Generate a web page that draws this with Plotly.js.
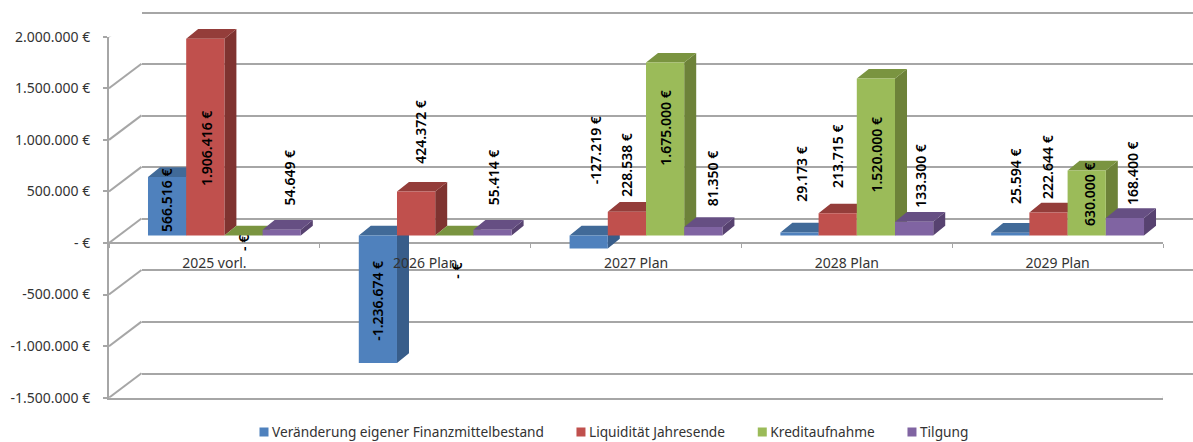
<!DOCTYPE html>
<html>
<head>
<meta charset="utf-8">
<script src="https://cdn.plot.ly/plotly-3.0.1.min.js"></script>
<style>html,body{margin:0;padding:0;background:#fff}</style>
</head>
<body>
<div id="chart" style="width:1193px;height:442px"></div>
<script>
// ---- data ----
const categories = ['2025 vorl.', '2026 Plan', '2027 Plan', '2028 Plan', '2029 Plan'];
const seriesNames = ['Veränderung eigener Finanzmittelbestand', 'Liquidität Jahresende', 'Kreditaufnahme', 'Tilgung'];
const veraenderung = [566516, -1236674, -127219, 29173, 25594];
const liquiditaet = [1906416, 424372, 228538, 213715, 222644];
const kredit = [0, 0, 1675000, 1520000, 630000];
const tilgung = [54649, 55414, 81350, 133300, 168400];
const yTickValues = [-1500000, -1000000, -500000, 0, 500000, 1000000, 1500000, 2000000];
const yTickLabels = ['-1.500.000 €', '-1.000.000 €', '-500.000 €', '- €', '500.000 €', '1.000.000 €', '1.500.000 €', '2.000.000 €'];

// ---- style ----
const frontColors = ['#4F81BD', '#C0504D', '#9BBB59', '#8064A2'];
const sideColors = ['#385D8A', '#7F3330', '#6D8239', '#574270'];
const topColors = ['#416A98', '#943D3A', '#7A9440', '#664F83'];
const FONT = '"Noto Sans", sans-serif';
const GRID = '#A6A6A6';

// label nudges from each bar's value point, pixels
const labelShiftX = [[0, 1, 0, 8], [0, 5, 2, 1], [7, 0, 1, 10], [2, 0, 1, 7], [5, -1, 3, 7]];
const labelShiftY = [[-23, -110, -8, 52], [62, 60, -35, 52], [98, 47, -66, 49], [59, 57, -76, 46], [57, 45, -24, 45]];

// ---- geometry of the projected box (pixels in the 1193x442 page) ----
const W = 1193, H = 442;
const frontLeft = 109, frontRight = 1163, frontTop = 36.7, frontBottom = 397.7, frontZero = 243.3;
const pxPerUnitY = (frontBottom - frontTop) / 3500000;
const pxPerCat = (frontRight - frontLeft) / 5;
const wallDx = 32.5, wallDy = 24.5;    // front plane -> back wall
const barDx = 10, barDy = 7.6;         // front plane -> bar plane
const depthDx = 12, depthDy = 9.7;     // bar depth
const bargap = 0.275;
const barW = (1 - bargap) / 4;

const series = [veraenderung, liquiditaet, kredit, tilgung];
const xDomain = (shift) => [(frontLeft + shift) / W, (frontRight + shift) / W];
const yDomain = (shift) => [(H - frontBottom + shift) / H, (H - frontTop + shift) / H];

const traces = [];

// back wall: gridlines come from axis y; one invisible point activates the subplot
traces.push({type: 'scatter', x: [0], y: [null], xaxis: 'x', yaxis: 'y', showlegend: false, hoverinfo: 'skip', mode: 'lines'});

// left-wall diagonals and right floor edge, in front-plane units
const wx = [], wy = [];
const wallUx = wallDx / pxPerCat, wallUy = wallDy / pxPerUnitY;
yTickValues.forEach(v => { wx.push(0, wallUx, null); wy.push(v, v + wallUy, null); });
wx.push(5, 5 + wallUx, null); wy.push(yTickValues[0], yTickValues[0] + wallUy, null);
traces.push({type: 'scatter', mode: 'lines', x: wx, y: wy, xaxis: 'x2', yaxis: 'y2', cliponaxis: false,
  line: {color: GRID, width: 2}, showlegend: false, hoverinfo: 'skip'});

// depth faces of the bars (side and top), drawn under all the front faces
const depUx = depthDx / pxPerCat, depUy = depthDy / pxPerUnitY;
series.forEach((vals, s) => {
  const sx = [], sy = [], tx = [], ty = [];
  vals.forEach((v, i) => {
    const l = i + 0.5 + (s - 2) * barW, r = l + barW;
    const hi = Math.max(v, 0), lo = Math.min(v, 0);
    sx.push(r, r + depUx, r + depUx, r, null);
    sy.push(lo, lo + depUy, hi + depUy, hi, null);
    tx.push(l, l + depUx, r + depUx, r, null);
    ty.push(hi, hi + depUy, hi + depUy, hi, null);
  });
  traces.push({type: 'scatter', mode: 'lines', fill: 'toself', x: sx, y: sy, xaxis: 'x3', yaxis: 'y3', cliponaxis: false,
    line: {width: 0}, fillcolor: sideColors[s], showlegend: false, hoverinfo: 'skip'});
  traces.push({type: 'scatter', mode: 'lines', fill: 'toself', x: tx, y: ty, xaxis: 'x3', yaxis: 'y3', cliponaxis: false,
    line: {width: 0}, fillcolor: topColors[s], showlegend: false, hoverinfo: 'skip'});
});

// front faces
series.forEach((vals, s) => {
  traces.push({type: 'bar', name: seriesNames[s], x: categories.map((c, i) => i + 0.5), y: vals,
    xaxis: 'x4', yaxis: 'y4', marker: {color: frontColors[s], line: {width: 0}}});
});

// category axis, above the bars
traces.push({type: 'scatter', mode: 'lines', x: categories, y: categories.map(() => null),
  xaxis: 'x5', yaxis: 'y5', showlegend: false, hoverinfo: 'skip'});

// data labels
const fmt = v => v === 0 ? '- €' : String(v).replace(/\B(?=(\d{3})+(?!\d))/g, '.') + ' €';
const annotations = [];
series.forEach((vals, s) => vals.forEach((v, i) => {
  annotations.push({
    xref: 'x4', yref: 'y4', x: i + 0.5 + (s - 1.5) * barW, y: v,
    xshift: labelShiftX[i][s], yshift: labelShiftY[i][s],
    text: fmt(v), textangle: -90, showarrow: false,
    font: {family: FONT, size: 14, color: '#000', weight: 600}
  });
}));

const hidden = {visible: false, fixedrange: true};
const layout = {
  width: W, height: H, margin: {l: 0, r: 0, t: 0, b: 0, pad: 0, autoexpand: false},
  paper_bgcolor: '#fff', plot_bgcolor: 'rgba(0,0,0,0)',
  font: {family: FONT, size: 14, color: '#333'},
  barmode: 'group', bargap: bargap, bargroupgap: 0,
  showlegend: true,
  legend: {orientation: 'h', x: 232 / W, xanchor: 'left', y: (H - 432) / H, yanchor: 'middle',
    bgcolor: 'rgba(0,0,0,0)', font: {family: FONT, size: 13.7, color: '#333'}, traceorder: 'normal'},
  annotations: annotations,

  // back wall
  xaxis: {domain: [(frontLeft + wallDx) / W, 1], range: [0, 1], visible: false, fixedrange: true},
  yaxis: {domain: [0, 1], range: [(frontZero - wallDy - H) / pxPerUnitY, (frontZero - wallDy) / pxPerUnitY],
    tickmode: 'array', tickvals: yTickValues, ticktext: yTickValues.map(() => ''), ticks: '', showgrid: true,
    gridcolor: GRID, gridwidth: 2, zeroline: false, showline: false, fixedrange: true},

  // front plane: value axis, zero line, floor edge
  xaxis2: {domain: xDomain(0), range: [0, 5], anchor: 'y2', showgrid: false, zeroline: false, showline: true,
    linecolor: GRID, linewidth: 2, ticks: '', showticklabels: false, fixedrange: true},
  yaxis2: {domain: yDomain(0), range: [-1500000, 2000000], anchor: 'x2', tickmode: 'array', tickvals: yTickValues,
    ticktext: yTickLabels, ticks: 'outside', ticklen: 4, tickcolor: GRID, tickwidth: 2, showline: true, linecolor: GRID, linewidth: 2,
    showgrid: false, zeroline: true, zerolinecolor: GRID, zerolinewidth: 2, ticklabelstandoff: 10,
    tickfont: {family: FONT, size: 14, color: '#333'}, fixedrange: true},

  // bar plane: depth faces
  xaxis3: Object.assign({domain: xDomain(barDx), range: [0, 5], anchor: 'y3'}, hidden),
  yaxis3: Object.assign({domain: yDomain(barDy), range: [-1500000, 2000000], anchor: 'x3'}, hidden),
  // bar plane: front faces
  xaxis4: Object.assign({domain: xDomain(barDx), range: [0, 5], anchor: 'y4'}, hidden),
  yaxis4: Object.assign({domain: yDomain(barDy), range: [-1500000, 2000000], anchor: 'x4'}, hidden),

  // category labels
  xaxis5: {domain: xDomain(0), type: 'category', categoryorder: 'array', categoryarray: categories, range: [-0.5, 4.5],
    anchor: 'y5', tickson: 'boundaries', ticks: 'outside', ticklen: 4, tickcolor: GRID, tickwidth: 1,
    showgrid: false, zeroline: false, showline: false, ticklabelstandoff: 10,
    tickfont: {family: FONT, size: 14, color: '#333'}, fixedrange: true},
  yaxis5: Object.assign({domain: [(H - frontZero) / H, 1], range: [0, 1], anchor: 'x5'}, hidden)
};

// Excel's legend has a small square right beside the text: nudge the native swatches
function tightenLegend() {
  document.querySelectorAll('#chart .legend .legendsymbols').forEach(g => g.setAttribute('transform', 'translate(12,0)'));
  document.querySelectorAll('#chart .legend .legendsymbols path').forEach(p => {
    p.setAttribute('d', 'M4.5,4.5H-4.5V-4.5H4.5Z');
  });
}
Plotly.newPlot('chart', traces, layout, {displayModeBar: false, responsive: false}).then(gd => {
  tightenLegend();
  gd.on('plotly_afterplot', tightenLegend);
});
</script>
</body>
</html>
